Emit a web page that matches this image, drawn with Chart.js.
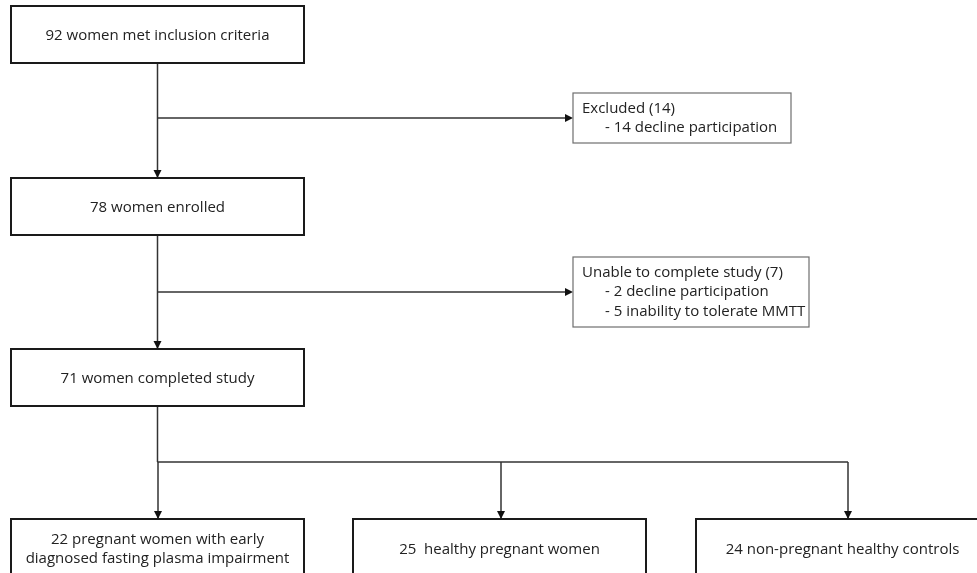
<!DOCTYPE html>
<html>
<head>
<meta charset="utf-8">
<script src="https://cdn.jsdelivr.net/npm/chart.js@4.4.1/dist/chart.umd.min.js"></script>
<style>
  html, body { margin: 0; padding: 0; background: #fff; }
  #wrap { width: 977px; height: 573px; position: relative; }
</style>
</head>
<body>
<div id="wrap"><canvas id="flow"></canvas></div>
<script>
// flow numbers
const mainLabels = ['women met inclusion criteria', 'women enrolled', 'women completed study'];
const mainCounts = [92, 78, 71];
const exitTitles = ['Excluded', 'Unable to complete study'];
const exitCounts = [14, 7];
const exitReasons = [
  ['14 decline participation'],
  ['2 decline participation', '5 inability to tolerate MMTT'],
];
const groupLabels = [
  ['22 pregnant women with early', 'diagnosed fasting plasma impairment'],
  ['25  healthy pregnant women'],
  ['24 non-pregnant healthy controls'],
];

// layout in page units (x 0..977, y 0..573 from top)
const mainBoxes = [
  { x: 11, y: 6, w: 293, h: 57 },
  { x: 11, y: 178, w: 293, h: 57 },
  { x: 11, y: 349, w: 293, h: 57 },
];
const exitBoxes = [
  { x: 573, y: 93, w: 218, h: 50 },
  { x: 573, y: 257, w: 236, h: 70 },
];
const groupBoxes = [
  { x: 11, y: 519, w: 293, h: 70 },
  { x: 353, y: 519, w: 293, h: 70 },
  { x: 696, y: 519, w: 293, h: 70 },
];
const groupArrowX = [158, 501, 848];
const splitY = 462;

const FONT = '15px "Open Sans", sans-serif';
const INK = '#222';

const flowPlugin = {
  id: 'flowPlugin',
  afterDraw(chart) {
    const { ctx, scales: { x, y } } = chart;
    const px = (v) => x.getPixelForValue(v);
    const py = (v) => y.getPixelForValue(v);

    function box(b, color, lw) {
      ctx.save();
      ctx.strokeStyle = color;
      ctx.lineWidth = lw;
      ctx.fillStyle = '#fff';
      ctx.fillRect(px(b.x), py(b.y), px(b.x + b.w) - px(b.x), py(b.y + b.h) - py(b.y));
      ctx.strokeRect(px(b.x), py(b.y), px(b.x + b.w) - px(b.x), py(b.y + b.h) - py(b.y));
      ctx.restore();
    }

    function line(x1, y1, x2, y2) {
      ctx.save();
      ctx.strokeStyle = '#333';
      ctx.lineWidth = 1.5;
      ctx.beginPath();
      ctx.moveTo(px(x1), py(y1));
      ctx.lineTo(px(x2), py(y2));
      ctx.stroke();
      ctx.restore();
    }

    function arrowDown(ax, ay) {
      ctx.save();
      ctx.fillStyle = '#111';
      ctx.beginPath();
      ctx.moveTo(px(ax), py(ay));
      ctx.lineTo(px(ax) - 4, py(ay) - 8);
      ctx.lineTo(px(ax) + 4, py(ay) - 8);
      ctx.closePath();
      ctx.fill();
      ctx.restore();
    }

    function arrowRight(ax, ay) {
      ctx.save();
      ctx.fillStyle = '#111';
      ctx.beginPath();
      ctx.moveTo(px(ax), py(ay));
      ctx.lineTo(px(ax) - 8, py(ay) - 4);
      ctx.lineTo(px(ax) - 8, py(ay) + 4);
      ctx.closePath();
      ctx.fill();
      ctx.restore();
    }

    function text(str, tx, ty, align) {
      ctx.save();
      ctx.font = FONT;
      ctx.fillStyle = INK;
      ctx.textAlign = align;
      ctx.textBaseline = 'middle';
      ctx.fillText(str, px(tx), py(ty));
      ctx.restore();
    }

    // main column connectors
    const cx = mainBoxes[0].x + mainBoxes[0].w / 2;
    for (let i = 0; i < mainBoxes.length - 1; i++) {
      const top = mainBoxes[i].y + mainBoxes[i].h;
      const bottom = mainBoxes[i + 1].y;
      line(cx, top, cx, bottom - 1);
      arrowDown(cx, bottom);
      const ey = exitBoxes[i].y + exitBoxes[i].h / 2;
      line(cx, ey, exitBoxes[i].x - 2, ey);
      arrowRight(exitBoxes[i].x, ey);
    }

    // split to groups
    const last = mainBoxes[mainBoxes.length - 1];
    line(cx, last.y + last.h, cx, splitY);
    line(cx, splitY, groupArrowX[groupArrowX.length - 1], splitY);
    groupArrowX.forEach((gx, i) => {
      line(gx, splitY, gx, groupBoxes[i].y - 1);
      arrowDown(gx, groupBoxes[i].y);
    });

    // main boxes
    mainBoxes.forEach((b, i) => {
      box(b, '#1a1a1a', 2);
      text(`${mainCounts[i]} ${mainLabels[i]}`, b.x + b.w / 2, b.y + b.h / 2 + 1, 'center');
    });

    // exit boxes
    exitBoxes.forEach((b, i) => {
      box(b, '#6e6e6e', 1.2);
      const lines = [`${exitTitles[i]} (${exitCounts[i]})`].concat(exitReasons[i]);
      const step = 19.5;
      const y0 = b.y + b.h / 2 - ((lines.length - 1) * step) / 2;
      lines.forEach((s, k) => {
        if (k === 0) text(s, b.x + 9, y0, 'left');
        else text('- ' + s, b.x + 32, y0 + k * step, 'left');
      });
    });

    // group boxes
    groupBoxes.forEach((b, i) => {
      box(b, '#1a1a1a', 2);
      const lines = groupLabels[i];
      const step = 19;
      const y0 = 549.5 - ((lines.length - 1) * step) / 2;
      lines.forEach((s, k) => text(s, b.x + b.w / 2, y0 + k * step, 'center'));
    });
  },
};

new Chart(document.getElementById('flow'), {
  type: 'scatter',
  data: { datasets: [{ data: [], pointRadius: 0 }] },
  options: {
    responsive: true,
    maintainAspectRatio: false,
    animation: false,
    layout: { padding: 0 },
    events: [],
    scales: {
      x: { type: 'linear', min: 0, max: 977, display: false },
      y: { type: 'linear', min: 0, max: 573, reverse: true, display: false },
    },
    plugins: {
      legend: { display: false },
      tooltip: { enabled: false },
    },
  },
  plugins: [flowPlugin],
});
</script>
</body>
</html>
